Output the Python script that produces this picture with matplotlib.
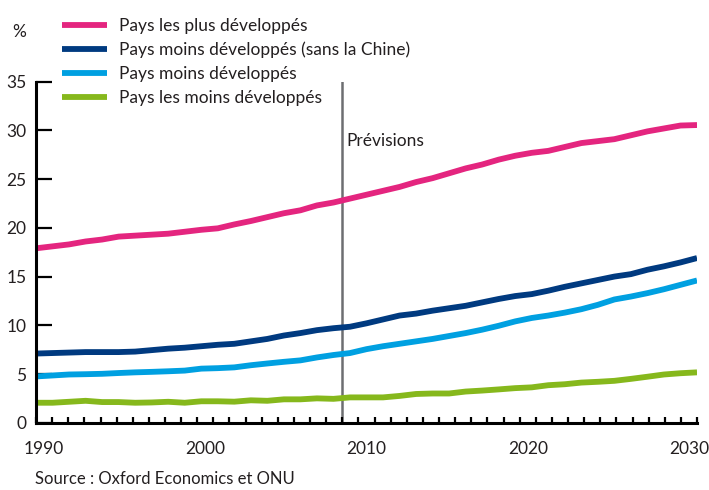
import numpy as np
import matplotlib
matplotlib.use('Agg')
import matplotlib.pyplot as plt

plt.rcParams['font.family'] = ['Lato', 'DejaVu Sans']

# share of population (%), one value per year 1990-2030
years = np.arange(1990, 2031)
plus_developpes = [17.9, 18.1, 18.3, 18.6, 18.8, 19.1, 19.2, 19.3, 19.4, 19.6,
                   19.8, 19.95, 20.35, 20.7, 21.1, 21.5, 21.8, 22.3, 22.6, 23.0,
                   23.4, 23.8, 24.2, 24.7, 25.1, 25.6, 26.1, 26.5, 27.0, 27.4,
                   27.7, 27.9, 28.3, 28.7, 28.9, 29.1, 29.5, 29.9, 30.2, 30.5, 30.55]
moins_dev_hors_chine = [7.1, 7.15, 7.2, 7.25, 7.25, 7.25, 7.3, 7.45, 7.6, 7.7,
                        7.85, 8.0, 8.1, 8.35, 8.6, 8.95, 9.2, 9.5, 9.7, 9.85,
                        10.2, 10.6, 11.0, 11.2, 11.5, 11.75, 12.0, 12.35, 12.7, 13.0,
                        13.2, 13.55, 13.95, 14.3, 14.65, 15.0, 15.25, 15.7, 16.05, 16.45, 16.9]
moins_developpes = [4.75, 4.85, 4.95, 4.98, 5.02, 5.1, 5.17, 5.22, 5.28, 5.35,
                    5.55, 5.6, 5.68, 5.9, 6.08, 6.25, 6.4, 6.7, 6.95, 7.15,
                    7.55, 7.85, 8.1, 8.35, 8.6, 8.9, 9.2, 9.55, 9.95, 10.4,
                    10.75, 11.0, 11.3, 11.65, 12.1, 12.65, 12.95, 13.3, 13.7, 14.15, 14.6]
les_moins_developpes = [2.05, 2.05, 2.15, 2.25, 2.12, 2.12, 2.05, 2.08, 2.15, 2.05,
                        2.2, 2.2, 2.16, 2.3, 2.25, 2.4, 2.4, 2.5, 2.45, 2.6,
                        2.6, 2.6, 2.75, 2.95, 3.0, 3.0, 3.2, 3.3, 3.42, 3.55,
                        3.63, 3.85, 3.95, 4.12, 4.2, 4.3, 4.5, 4.72, 4.95, 5.08, 5.17]

series = [
    ("Pays les plus développés", plus_developpes, "#E4257F"),
    ("Pays moins développés (sans la Chine)", moins_dev_hors_chine, "#003A80"),
    ("Pays moins développés", moins_developpes, "#00A0E1"),
    ("Pays les moins développés", les_moins_developpes, "#86B81C"),
]
year_labels = ["1990", "2000", "2010", "2020", "2030"]
text_color = "#231F20"
fs = 12.5

fig = plt.figure(figsize=(7.09, 4.9), dpi=100)
ax = fig.add_axes([0.0508, 0.1373, 0.9323, 0.696])

for label, values, color in series:
    ax.plot(years, values, color=color, lw=4.2, label=label,
            solid_capstyle='butt', solid_joinstyle='round')

# one band per year: tick marks on the band edges, labels in the middle
n = len(years)
step = (years[-1] - years[0]) / n
edges = years[0] + step * np.arange(n + 1)
centers = edges[:-1] + step / 2
label_pos = [centers[list(years).index(int(y))] for y in year_labels]

ax.set_xlim(years[0], years[-1])
ax.set_ylim(0, 35)
ax.set_xticks(edges, minor=True)
ax.set_xticks(label_pos, year_labels)
ax.set_yticks(np.arange(0, 36, 5))

# forecasts start after 2008
forecast = edges[19]
ax.axvline(forecast, color="#6D6E71", lw=1.8, zorder=1)
ax.text(forecast + 0.25, 28.9, "Prévisions", fontsize=fs, color=text_color,
        va='center', ha='left')

for side in ['top', 'right']:
    ax.spines[side].set_visible(False)
for side in ['left', 'bottom']:
    ax.spines[side].set_linewidth(2.2)
    ax.spines[side].set_color("black")

ax.tick_params(axis='x', which='major', length=0, pad=13, labelsize=fs,
               labelcolor=text_color)
ax.tick_params(axis='x', which='minor', direction='in', length=4.5, width=1.6,
               color="black")
ax.tick_params(axis='y', direction='in', length=11.5, width=1.6, pad=7,
               labelsize=fs, labelcolor=text_color, color="black")

fig.text(19 / 709, 1 - 32 / 490, "%", fontsize=fs, color=text_color,
         ha='center', va='center')

fig.legend(loc='upper left', bbox_to_anchor=(55 / 709, 1 - 11 / 490),
           frameon=False, fontsize=fs, handlelength=2.6, handletextpad=0.7,
           labelspacing=0.45, borderaxespad=0, labelcolor=text_color)

fig.text(35 / 709, 3 / 490, "Source : Oxford Economics et ONU",
         fontsize=12, color=text_color, ha='left', va='bottom')

fig.savefig("out.png", dpi=100)
